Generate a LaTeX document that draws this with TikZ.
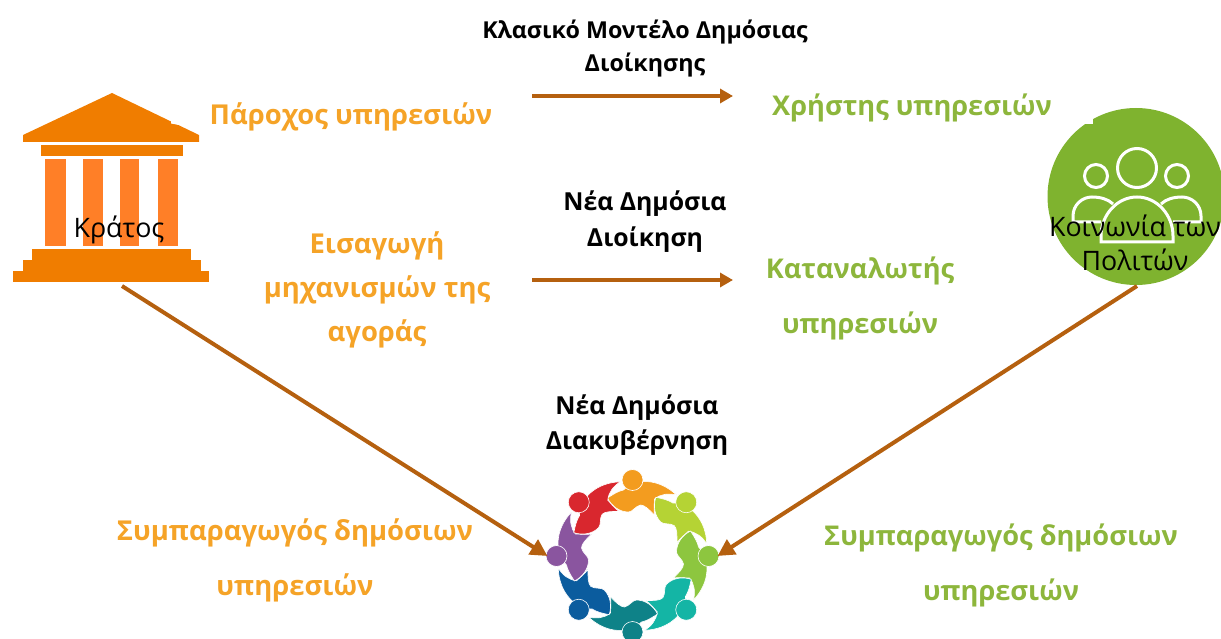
\documentclass[tikz,border=0pt]{standalone}
\usepackage{fontspec}
\setmainfont{Open Sans}
\usetikzlibrary{arrows.meta}
\definecolor{templedark}{HTML}{F07D00}
\definecolor{templelight}{HTML}{FF7F27}
\definecolor{labelorange}{HTML}{F5A327}
\definecolor{labelgreen}{HTML}{8DB63C}
\definecolor{citizengreen}{HTML}{7FB32F}
\definecolor{arrowbrown}{HTML}{B5600F}
\definecolor{ringorange}{HTML}{F39C1F}
\definecolor{ringlime}{HTML}{B5D334}
\definecolor{ringgreen}{HTML}{8DC63F}
\definecolor{ringteal}{HTML}{14B5A5}
\definecolor{ringsea}{HTML}{0E8288}
\definecolor{ringblue}{HTML}{0B5C9E}
\definecolor{ringpurple}{HTML}{8A559F}
\definecolor{ringred}{HTML}{D9272E}
\newcommand\ringperson[1]{
\path[fill=#1,draw=white,line width=.6pt] (-25,-58) .. controls (-19,-62) and (-14,-65) .. (-9,-66)
 .. controls (3,-78) and (26,-78) .. (44,-61) .. controls (36,-63) and (28,-62) .. (22,-57)
 .. controls (22,-53) and (21,-47) .. (22,-41) .. controls (16,-47) and (12,-51) .. (8,-51)
 .. controls (3,-50) and (0,-44) .. (-4,-44) .. controls (-13,-44) and (-21,-50) .. (-25,-58) -- cycle;
\path[fill=#1,draw=white,line width=.6pt] (0,-76) circle (10.5);
}
\begin{document}
\begin{tikzpicture}[x=1pt,y=-1pt]
\tikzstyle{orangelabel}=[font=\bfseries\fontsize{27.4}{30}\selectfont,text=labelorange,align=center]
\tikzstyle{greenlabel}=[font=\bfseries\fontsize{27.2}{30}\selectfont,text=labelgreen,align=center]
\tikzstyle{modellabel}=[font=\bfseries\fontsize{23.3}{27}\selectfont,text=black,align=center]
\tikzstyle{biglabel}=[font=\bfseries\fontsize{24.8}{27}\selectfont,text=black,align=center]
\tikzstyle{actorlabel}=[font=\fontsize{26.8}{30}\selectfont,text=black,align=center]
\tikzstyle{flow}=[draw=arrowbrown,line width=4pt,-{Triangle[length=17pt,width=17pt]}]
\tikzstyle{plainflow}=[draw=arrowbrown,line width=3.6pt,-{Triangle[length=13pt,width=14pt]}]
\tikzstyle{iconline}=[draw=white,line width=3pt]
\useasboundingbox (0,0) rectangle (1221,639);
% temple
\fill[templedark] (112,93) -- (199,135) -- (199,142) -- (23,142) -- (23,135) -- cycle;
\fill[white] (171,119) -- (179,119) -- (179,125) -- (171,123.5) -- cycle;
\fill[templedark] (41,145) rectangle (183,156);
\foreach \left/\right in {45/66,83/103,120/139,158/178}
  \fill[templelight] (\left,159) rectangle (\right,246);
\fill[templedark] (32,249) rectangle (191,260);
\fill[templedark] (23,260) rectangle (201,271);
\fill[templedark] (13,271) rectangle (209,282);
% citizens
\fill[citizengreen] (1136,196.5) circle (88.5);
\fill[white] (1080,124.5) -- (1093,124.5) -- (1093,116) -- (1080,116) -- cycle;
\draw[iconline] (1137,168) circle (19.5);
\draw[iconline] (1096,176) circle (11.5);
\draw[iconline] (1177,176) circle (11.5);
\draw[iconline] (1101,242) -- (1173,242) -- (1173,236) .. controls (1173,215) and (1157,197) .. (1137,197) .. controls (1117,197) and (1101,215) .. (1101,236) -- cycle;
\draw[iconline] (1101,222) -- (1073,222) -- (1073,216) .. controls (1073,205) and (1082,197) .. (1092,197) .. controls (1100,197) and (1108,199) .. (1113,204);
\draw[iconline] (1173,222) -- (1201,222) -- (1201,216) .. controls (1201,205) and (1192,197) .. (1182,197) .. controls (1174,197) and (1166,199) .. (1161,204);
% people in a ring
\node[circle,minimum size=170pt,inner sep=0pt,outer sep=0pt] (ring) at (632.5,556) {};
\foreach \ang/\col in {0/ringorange,-45/ringlime,-90/ringgreen,-135/ringteal,-180/ringsea,-225/ringblue,-270/ringpurple,-315/ringred}
{
\begin{scope}[shift={(632.5,556)},rotate=\ang]
\ringperson{\col}
\end{scope}
}
\node[actorlabel] (state) at (119,230) {Κράτος};
\node[actorlabel] (society) at (1135,242.5) {Κοινωνία των\\[4pt]Πολιτών};
\node[modellabel] (classic) at (645,48.5) {Κλασικό Μοντέλο Δημόσιας\\[6pt]Διοίκησης};
\node[biglabel] (newadmin) at (645,221.5) {Νέα Δημόσια\\[9pt]Διοίκηση};
\node[biglabel] (newgov) at (637,425) {Νέα Δημόσια\\[8pt]Διακυβέρνηση};
\node[orangelabel] (provider) at (351,117) {Πάροχος υπηρεσιών};
\node[greenlabel] (user) at (912,108) {Χρήστης υπηρεσιών};
\node[orangelabel] (market) at (377,290) {Εισαγωγή\\[14pt]μηχανισμών της\\[14pt]αγοράς};
\node[greenlabel] (consumer) at (860,298) {Καταναλωτής\\[25pt]υπηρεσιών};
\node[orangelabel] (coprodleft) at (295,560) {Συμπαραγωγός δημόσιων\\[25pt]υπηρεσιών};
\node[greenlabel] (coprodright) at (1001,565) {Συμπαραγωγός δημόσιων\\[25pt]υπηρεσιών};
\coordinate (stateout) at (122,286);
\coordinate (societyout) at (1137,286);
\coordinate (classicfrom) at (532,96);
\coordinate (classicto) at (733,96);
\coordinate (newadminfrom) at (532,280);
\coordinate (newadminto) at (733,280);
\path[plainflow] (classicfrom) -- (classicto);
\path[plainflow] (newadminfrom) -- (newadminto);
\path[flow] (stateout) -- (ring.west);
\path[flow] (societyout) -- (ring.east);
\end{tikzpicture}
\end{document}
